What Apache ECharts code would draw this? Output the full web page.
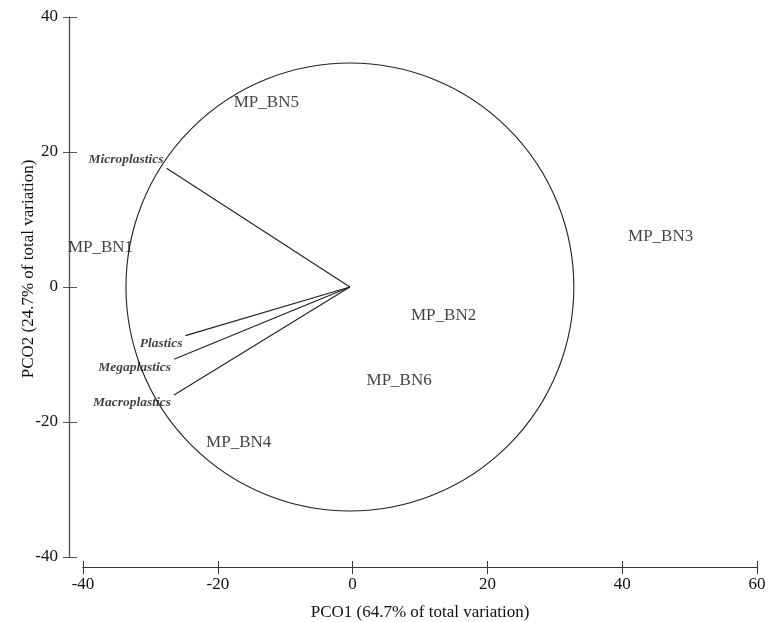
<!DOCTYPE html>
<html>
<head>
<meta charset="utf-8">
<script src="https://cdn.jsdelivr.net/npm/echarts@6/dist/echarts.min.js"></script>
<style>
	html, body { margin: 0; padding: 0; background: #fff; }
	#chart { width: 776px; height: 622px; }
</style>
</head>
<body>
<div id="chart"></div>
<script>
	// samples (PCO scores)
	const sampleNames = ['MP_BN1', 'MP_BN2', 'MP_BN3', 'MP_BN4', 'MP_BN5', 'MP_BN6']
	const sampleX = [-37.4, 13.5, 45.7, -16.9, -12.8, 6.9]
	const sampleY = [5.9, -4.3, 7.5, -23.0, 27.4, -13.8]

	// vector overlay (end points)
	const vectorNames = ['Microplastics', 'Plastics', 'Megaplastics', 'Macroplastics']
	const vectorX = [-27.6, -24.8, -26.5, -26.5]
	const vectorY = [17.6, -7.2, -10.7, -16.0]

	// vector origin / circle centre and circle radius
	const origin = [-0.4, 0]
	const circleRadius = 33.2

	const xTicks = [-40, -20, 0, 20, 40, 60]
	const yTicks = [-40, -20, 0, 20, 40]

	const font = 'Liberation Serif'
	const ink = '#111'

	const chart = echarts.init(document.getElementById('chart'))

	const baseX = {
		type: 'value',
		position: 'bottom',
		offset: 10,
		min: xTicks[0],
		max: xTicks[xTicks.length - 1],
		interval: 20,
		splitLine: { show: false },
		axisLine: { show: true, onZero: false, lineStyle: { color: '#333', width: 1.2 } }
	}
	const baseY = {
		type: 'value',
		position: 'left',
		offset: 14,
		min: yTicks[0],
		max: yTicks[yTicks.length - 1],
		interval: 20,
		splitLine: { show: false },
		axisLine: { show: true, onZero: false, lineStyle: { color: '#555', width: 1.2 } }
	}

	// label offsets for the vector names (text sits left of the line end)
	const vecOffsets = { Microplastics: [0, -9], Plastics: [0, 8], Megaplastics: [0, 8], Macroplastics: [0, 8] }

	chart.setOption({
		animation: false,
		backgroundColor: '#fff',
		grid: { left: 83, right: 19, top: 17, bottom: 65, outerBoundsMode: 'none', containLabel: false },
		xAxis: [
			Object.assign({}, baseX, {
				name: 'PCO1 (64.7% of total variation)',
				nameLocation: 'middle',
				nameGap: 37,
				nameMoveOverlap: false,
				nameTextStyle: { fontFamily: font, fontSize: 17, color: ink },
				axisTick: { show: true, inside: false, length: 7, lineStyle: { color: '#333' } },
				axisLabel: { fontFamily: font, fontSize: 17, color: ink, margin: 9 }
			}),
			Object.assign({}, baseX, {
				axisTick: { show: true, inside: true, length: 6, lineStyle: { color: '#333' } },
				axisLabel: { show: false }
			})
		],
		yAxis: [
			Object.assign({}, baseY, {
				name: 'PCO2 (24.7% of total variation)',
				nameLocation: 'middle',
				nameGap: 32,
				nameMoveOverlap: false,
				nameTextStyle: { fontFamily: font, fontSize: 17, color: ink, padding: [0, 0, 0, 36] },
				axisTick: { show: true, inside: false, length: 6, lineStyle: { color: '#555' } },
				axisLabel: { fontFamily: font, fontSize: 17, color: ink, margin: 11 }
			}),
			Object.assign({}, baseY, {
				axisTick: { show: true, inside: true, length: 8, lineStyle: { color: '#555' } },
				axisLabel: { show: false }
			})
		],
		series: [
			{
				// circle drawn through the axes' scales
				type: 'custom',
				silent: true,
				data: [[origin[0], origin[1], circleRadius]],
				renderItem: function (params, api) {
					const c = api.coord([api.value(0), api.value(1)])
					const s = api.size([api.value(2), api.value(2)])
					return {
						type: 'circle',
						shape: { cx: c[0], cy: c[1], r: (s[0] + s[1]) / 2 },
						style: { fill: 'none', stroke: '#222', lineWidth: 1.1 }
					}
				}
			},
			{
				type: 'lines',
				coordinateSystem: 'cartesian2d',
				silent: true,
				lineStyle: { color: '#222', width: 1.1, opacity: 1 },
				data: vectorNames.map((n, i) => ({ coords: [origin, [vectorX[i], vectorY[i]]] }))
			},
			{
				type: 'scatter',
				silent: true,
				symbolSize: 0,
				data: vectorNames.map((n, i) => ({
					value: [vectorX[i], vectorY[i]],
					name: n,
					label: { offset: vecOffsets[n] }
				})),
				label: {
					show: true,
					position: 'left',
					distance: 3,
					formatter: '{b}',
					fontFamily: font,
					fontStyle: 'italic',
					fontWeight: 'bold',
					fontSize: 13.5,
					color: ink
				}
			},
			{
				type: 'scatter',
				silent: true,
				symbolSize: 0,
				data: sampleNames.map((n, i) => ({ value: [sampleX[i], sampleY[i]], name: n })),
				label: {
					show: true,
					position: 'inside',
					formatter: '{b}',
					fontFamily: font,
					fontSize: 17,
					color: ink
				}
			}
		]
	})
</script>
</body>
</html>
